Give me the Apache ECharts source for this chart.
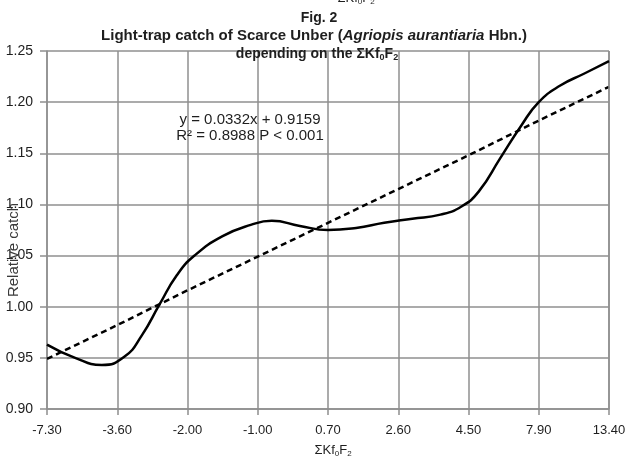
<!DOCTYPE html>
<html>
<head>
<meta charset="utf-8">
<script src="https://cdn.jsdelivr.net/npm/echarts@6/dist/echarts.min.js"></script>
<style>
  html, body { margin: 0; padding: 0; background: #fff; }
  #chart { width: 629px; height: 458px; }
</style>
</head>
<body>
<div id="chart"></div>
<script>
// x tick labels (ΣKf0F2), equally spaced positions 0..8
const categories = ['-7.30', '-3.60', '-2.00', '-1.00', '0.70', '2.60', '4.50', '7.90', '13.40']
// smoothed curve: position along the axis (0..8)
const curveX = [0, 0.4, 0.78, 1.1, 1.35, 1.6, 1.85, 2.1, 2.5, 2.9, 3.2, 3.6, 4, 4.4, 4.8,
    5.2, 5.6, 5.9, 6.15, 6.45, 6.75, 7, 7.3, 7.65, 8]
// relative catch at those positions
const curveY = [0.963, 0.950, 0.943, 0.951, 0.972, 1.002, 1.031, 1.050, 1.069, 1.080, 1.084, 1.079, 1.075, 1.077, 1.082,
    1.086, 1.090, 1.098, 1.113, 1.145, 1.177, 1.200, 1.216, 1.228, 1.240]
// linear trend y = 0.0332x + 0.9159 (x = 1..9)
const trendValues = [0.949, 0.982, 1.016, 1.049, 1.082, 1.115, 1.148, 1.182, 1.215]

const font = 'Liberation Sans, Arial, sans-serif'
const gridColor = '#8f8f8f'
const textColor = '#1e1e1e'

let chart = echarts.init(document.getElementById('chart'))

function subText(size, bold) {
    return {
        b: { fontFamily: font, fontSize: size, fontWeight: bold ? 'bold' : 'normal', fill: textColor },
        i: { fontFamily: font, fontSize: size, fontWeight: bold ? 'bold' : 'normal', fontStyle: 'italic', fill: textColor },
        s: { fontFamily: font, fontSize: Math.round(size * 0.65), fontWeight: bold ? 'bold' : 'normal', fill: textColor, padding: [Math.round(size * 0.5), 0, 0, 0] }
    }
}

chart.setOption({
    animation: false,
    backgroundColor: '#fff',
    grid: { left: 47, right: 20, top: 51, bottom: 49, show: false },
    xAxis: {
        type: 'value',
        min: 0, max: 8, interval: 1,
        axisLine: { lineStyle: { color: gridColor, width: 1.5 } },
        axisTick: { show: true, length: 6, lineStyle: { color: gridColor, width: 1.5 } },
        axisLabel: {
            fontFamily: font, fontSize: 13, color: textColor, margin: 15,
            formatter: (v) => categories[v]
        },
        splitLine: { show: true, lineStyle: { color: gridColor, width: 1.5 } }
    },
    yAxis: {
        type: 'value',
        min: 0.9, max: 1.25, interval: 0.05,
        axisLine: { show: true, lineStyle: { color: gridColor, width: 1.5 } },
        axisTick: { show: true, length: 7, lineStyle: { color: gridColor, width: 1.5 } },
        axisLabel: {
            fontFamily: font, fontSize: 14, color: textColor, margin: 14,
            formatter: (v) => v.toFixed(2)
        },
        splitLine: { show: true, lineStyle: { color: gridColor, width: 1.5 } }
    },
    graphic: [
        {
            type: 'text', x: 356, y: -9, z: 10,
            style: { text: '{b|ΣKf}{s|0}{b|F}{s|2}', rich: subText(13, false), align: 'center' }
        },
        {
            type: 'text', x: 319, y: 11, z: 10,
            style: { text: 'Fig. 2', font: 'bold 14px ' + font, fill: textColor, align: 'center' }
        },
        {
            type: 'text', x: 314, y: 28, z: 10,
            style: {
                text: '{b|Light-trap catch of Scarce Unber (}{i|Agriopis aurantiaria}{b| Hbn.)}',
                rich: subText(15, true), align: 'center'
            }
        },
        {
            type: 'text', x: 317, y: 46, z: 10,
            style: { text: '{b|depending on the ΣKf}{s|0}{b|F}{s|2}', rich: subText(14, true), align: 'center' }
        },
        {
            type: 'text', x: 250, y: 112, z: 10,
            style: { text: 'y = 0.0332x + 0.9159', font: '15px ' + font, fill: textColor, align: 'center' }
        },
        {
            type: 'text', x: 250, y: 128, z: 10,
            style: { text: 'R² = 0.8988 P < 0.001', font: '15px ' + font, fill: textColor, align: 'center' }
        },
        {
            type: 'text', x: 6, y: 250, rotation: Math.PI / 2, z: 10,
            style: { text: 'Relative catch', font: '15px ' + font, fill: '#3a3a3a', align: 'center' }
        },
        {
            type: 'text', x: 333, y: 443, z: 10,
            style: { text: '{b|ΣKf}{s|0}{b|F}{s|2}', rich: subText(13, false), align: 'center' }
        }
    ],
    series: [
        {
            name: 'catch',
            type: 'line',
            data: curveX.map((x, i) => [x, curveY[i]]),
            smooth: 0.5,
            symbol: 'none',
            lineStyle: { color: '#000', width: 2.5 },
            z: 5
        },
        {
            name: 'trend',
            type: 'line',
            data: trendValues.map((v, i) => [i, v]),
            symbol: 'none',
            lineStyle: { color: '#000', width: 2.5, type: [6, 4] },
            z: 4
        },
        {
            // right border of the plot area
            name: 'border',
            type: 'line',
            data: [],
            markLine: {
                silent: true, symbol: 'none', label: { show: false },
                lineStyle: { color: gridColor, width: 1.5, type: 'solid' },
                data: [{ xAxis: 8 }]
            }
        }
    ]
})
</script>
</body>
</html>
